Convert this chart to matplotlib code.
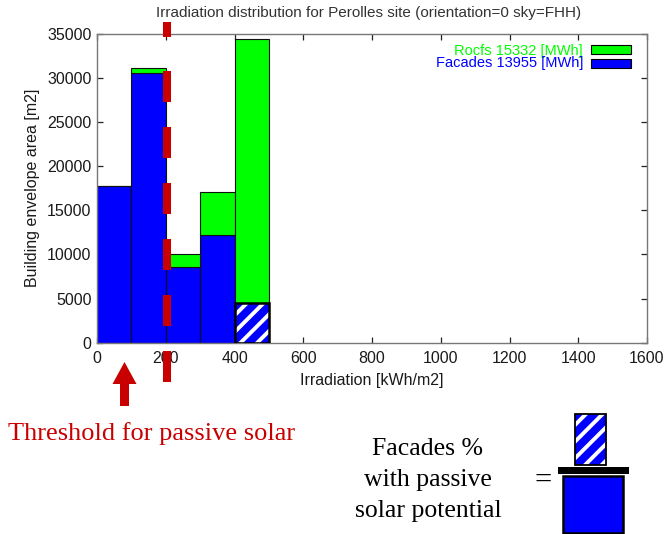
import matplotlib
matplotlib.use("Agg")
import matplotlib.pyplot as plt
from matplotlib.patches import Rectangle, Polygon
from matplotlib.lines import Line2D
import matplotlib.transforms as mtransforms

plt.rcParams['font.family'] = ['Liberation Sans', 'DejaVu Sans']
plt.rcParams['hatch.linewidth'] = 2.8
plt.rcParams['lines.scale_dashes'] = False

# ---- data ----
bin_left = [0, 100, 200, 300, 400]
bin_width = 100
facades = [17800, 30600, 8600, 12200, 4550]
roofs = [0, 500, 1400, 4850, 29900]
roofs_label = "Rocfs 15332 [MWh]"
facades_label = "Facades 13955 [MWh]"
title = "Irradiation distribution for Perolles site (orientation=0 sky=FHH)"
xlabel = "Irradiation [kWh/m2]"
ylabel = "Building envelope area [m2]"
xticks = [0, 200, 400, 600, 800, 1000, 1200, 1400, 1600]
yticks = [0, 5000, 10000, 15000, 20000, 25000, 30000, 35000]
threshold = 205
arrow_x = 80
hatched_bin = 4

W, H = 664, 534
fig = plt.figure(figsize=(W / 100, H / 100), dpi=100)

def fx(px):
    return px / W

def fy(py):
    return 1 - py / H

ax_l, ax_r, ax_t, ax_b = 97, 647, 34, 342.7
ax = fig.add_axes([fx(ax_l), fy(ax_b), (ax_r - ax_l) / W, (ax_b - ax_t) / H])

BLUE = '#0000FF'
GREEN = '#00FF00'
RED = '#C80000'

bars_f = ax.bar(bin_left, facades, width=bin_width, align='edge',
                color=BLUE, edgecolor='#111111', linewidth=0.8, zorder=2)
bars_r = ax.bar(bin_left, roofs, width=bin_width, align='edge', bottom=facades,
                color=GREEN, edgecolor='#111111', linewidth=0.8, zorder=2)
hb = bars_f[hatched_bin]
hb.set_hatch('//')
hb.set_edgecolor('white')
hb.set_linewidth(0)
ax.add_patch(Rectangle((hb.get_x(), hb.get_y()), hb.get_width(), hb.get_height(),
                       fill=False, edgecolor='black', linewidth=1.8, zorder=3))

ax.set_xlim(0, 1600)
ax.set_ylim(0, 35000)
ax.set_xticks(xticks)
ax.set_yticks(yticks)
ax.tick_params(direction='in', top=True, right=True, length=4.5, width=0.9,
               labelsize=11.5, labelcolor='#1a1a1a', color='#222222')
ax.tick_params(axis='x', pad=6)
ax.tick_params(axis='y', pad=4)
for s in ax.spines.values():
    s.set_color('#777777')
    s.set_linewidth(1.0)

# legend (manual)
ax.text(0.8836, 0.946, roofs_label, transform=ax.transAxes, ha='right', va='center',
        color=GREEN, fontsize=10.5)
ax.text(0.8836, 0.905, facades_label, transform=ax.transAxes, ha='right', va='center',
        color=BLUE, fontsize=10.5)
ax.add_patch(Rectangle((0.898, 0.935), 0.073, 0.029, transform=ax.transAxes,
                       facecolor=GREEN, edgecolor='black', linewidth=0.8, clip_on=False))
ax.add_patch(Rectangle((0.898, 0.891), 0.073, 0.027, transform=ax.transAxes,
                       facecolor=BLUE, edgecolor='black', linewidth=0.8, clip_on=False))

fig.text(fx(369), fy(13), title, ha='center', va='center', fontsize=11, color='#333333')
fig.text(fx(372), fy(380), xlabel, ha='center', va='center', fontsize=11.5, color='#1a1a1a')
fig.text(fx(33), fy(188), ylabel, ha='center', va='center', rotation=90,
         fontsize=11.5, color='#1a1a1a')

# red dashed threshold line
bt = mtransforms.blended_transform_factory(ax.transData, fig.transFigure)
dl = Line2D([threshold, threshold], [fy(22), fy(382)], transform=bt, color=RED,
            linewidth=5.8, solid_capstyle='butt', dash_capstyle='butt', clip_on=False)
p = 0.72
dash_seq = [15 * p, 34 * p] + [31 * p, 25 * p] * 6
dl.set_dashes(dash_seq)
fig.add_artist(dl)

# red arrow
cx = arrow_x
pxu = 1600 / 550.0
arrow = Polygon([
    (cx, fy(362)), (cx + 12 * pxu, fy(384)), (cx + 4.5 * pxu, fy(384)),
    (cx + 4.5 * pxu, fy(406)), (cx - 4.5 * pxu, fy(406)), (cx - 4.5 * pxu, fy(384)),
    (cx - 12 * pxu, fy(384))], closed=True, transform=bt,
    facecolor=RED, edgecolor='none', clip_on=False)
fig.add_artist(arrow)

serif = ['Liberation Serif', 'DejaVu Serif']
fig.text(fx(8), fy(440), "Threshold for passive solar", ha='left', va='baseline',
         fontsize=19, color=RED, family=serif)

for line, base in zip(["Facades %", "with passive", "solar potential"], [455, 486, 517]):
    fig.text(fx(428), fy(base), line, ha='center', va='baseline', fontsize=18.5,
             color='black', family=serif)
fig.text(fx(543), fy(481), "=", ha='center', va='center', fontsize=22, color='black',
         family=serif)

# fraction icon
def frect(x0, y0, x1, y1, **kw):
    r = Rectangle((fx(x0), fy(y1)), fx(x1) - fx(x0), fy(y0) - fy(y1),
                  transform=fig.transFigure, **kw)
    fig.add_artist(r)
    return r

frect(575, 414, 606, 465, facecolor=BLUE, edgecolor='white', hatch='//', linewidth=0)
frect(575, 414, 606, 465, fill=False, edgecolor='black', linewidth=1.3)
frect(558, 467, 629, 474, facecolor='black', edgecolor='none')
frect(563, 476, 623, 533, facecolor=BLUE, edgecolor='black', linewidth=1.8)

fig.savefig("out.png", dpi=100)
